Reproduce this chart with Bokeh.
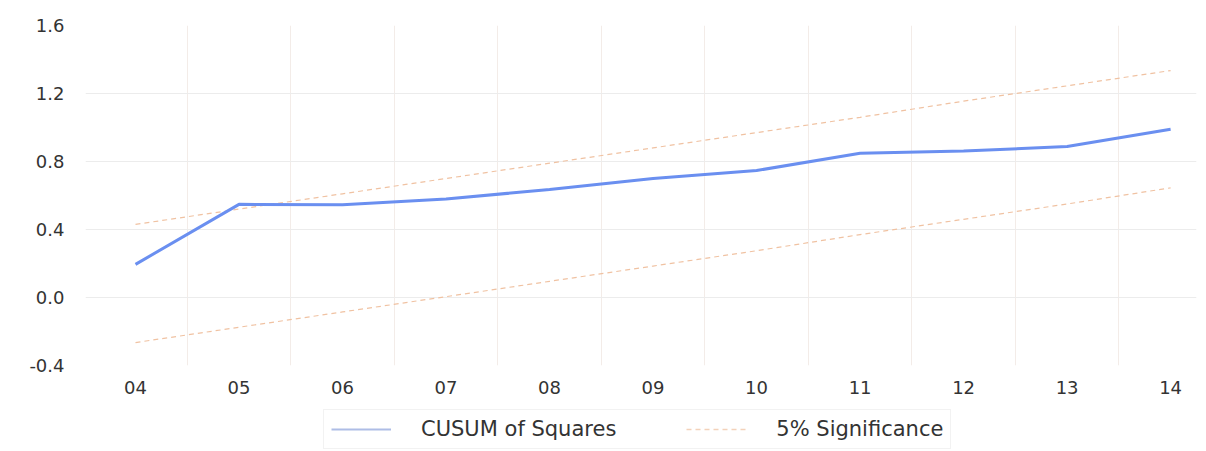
from bokeh.plotting import figure
from bokeh.layouts import column
from bokeh.models import FixedTicker, PrintfTickFormatter, Legend, LegendItem, Range1d
from bokeh.embed import file_html
from bokeh.resources import INLINE

years = [4, 5, 6, 7, 8, 9, 10, 11, 12, 13, 14]
tick_labels = ["04", "05", "06", "07", "08", "09", "10", "11", "12", "13", "14"]
cusum = [0.195, 0.548, 0.545, 0.58, 0.635, 0.70, 0.747, 0.848, 0.862, 0.888, 0.99]
upper = [0.43, 0.52, 0.61, 0.70, 0.79, 0.88, 0.97, 1.06, 1.155, 1.245, 1.335]
lower = [-0.265, -0.175, -0.085, 0.005, 0.095, 0.185, 0.275, 0.37, 0.46, 0.55, 0.645]
y_ticks = [-0.4, 0.0, 0.4, 0.8, 1.2, 1.6]
series_names = ["CUSUM of Squares", "5% Significance"]

BLUE = "#6a8ff0"
ORANGE = "#f0c2a2"
W = 1200

p = figure(width=W, height=400, output_backend="svg", toolbar_location=None,
           x_range=Range1d(3.517, 14.25), y_range=Range1d(-0.4, 1.6),
           min_border_left=85, min_border_right=W - 1196, min_border_top=25,
           min_border_bottom=35)
p.outline_line_color = None

p.xaxis.ticker = FixedTicker(ticks=years)
p.xaxis.major_label_overrides = {y: l for y, l in zip(years, tick_labels)}
p.yaxis.ticker = FixedTicker(ticks=y_ticks)
p.yaxis.formatter = PrintfTickFormatter(format="%.1f")
for ax in (p.xaxis, p.yaxis):
    ax.axis_line_color = None
    ax.major_tick_line_color = None
    ax.minor_tick_line_color = None
    ax.major_label_text_font = "DejaVu Sans"
    ax.major_label_text_font_size = "18px"
    ax.major_label_text_color = "#333333"
p.yaxis.major_label_standoff = 15
p.xaxis.major_label_standoff = 9

p.xgrid.ticker = FixedTicker(ticks=[y + 0.5 for y in years[:-1]])
p.xgrid.grid_line_color = "#f3ece8"
p.ygrid.ticker = FixedTicker(ticks=y_ticks[1:-1])
p.ygrid.grid_line_color = "#ececec"

p.line(years, upper, line_color=ORANGE, line_width=1.2, line_dash="5 4")
p.line(years, lower, line_color=ORANGE, line_width=1.2, line_dash="5 4")
p.line(years, cusum, line_color=BLUE, line_width=3)

# legend strip below the chart (frame aligned with the chart's frame)
lg = figure(width=W, height=51, output_backend="svg", toolbar_location=None,
            x_axis_type=None, y_axis_type=None,
            x_range=Range1d(0, 1), y_range=Range1d(0, 1),
            min_border_left=85, min_border_right=W - 1196, min_border_top=0,
            min_border_bottom=0)
lg.outline_line_color = None
lg.xgrid.visible = False
lg.ygrid.visible = False
# legend sample renderers; their data lies outside this strip's ranges
g1 = lg.line(years, cusum, line_color="#aebde6", line_width=2)
g2 = lg.line(years, upper, line_color="#f3d2ba", line_width=1.5, line_dash="5 4")
legend = Legend(items=[LegendItem(label=series_names[0], renderers=[g1]),
                       LegendItem(label=series_names[1], renderers=[g2])],
                orientation="horizontal", location=(238, 2),
                label_text_font="DejaVu Sans", label_text_font_size="21px",
                label_text_color="#333333", border_line_color="#e6e6e6",
                glyph_width=60, spacing=70, padding=7, margin=0,
                label_standoff=30)
lg.add_layout(legend, "center")

layout = column(p, lg, spacing=0)
open("out.html", "w").write(file_html(layout, INLINE))
